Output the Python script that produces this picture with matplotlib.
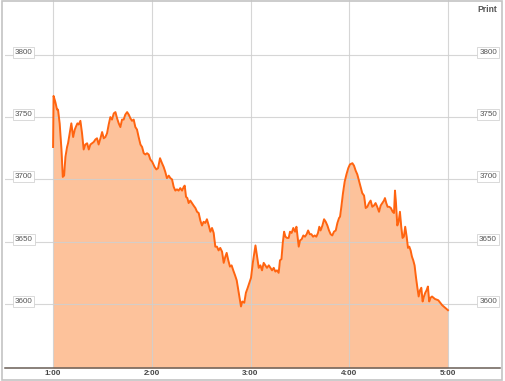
import matplotlib
matplotlib.use("Agg")
from matplotlib import pyplot as plt
from matplotlib.patches import Rectangle

# minutes after 1:00 and index level
minutos = [0, 0.3, 1.4, 2.4, 3.0, 4.0, 5.1, 5.9, 6.7, 7.5, 8.5, 9.1, 10.1, 11.1, 12.2,
           13.2, 13.8, 14.8, 15.6, 16.6, 17.6, 18.6, 19.6, 20.7, 21.7, 22.7, 23.7,
           24.7, 25.7, 26.7, 27.7, 28.8, 29.8, 30.8, 31.8, 32.8, 33.8, 34.8, 35.8,
           36.9, 37.9, 38.9, 39.9, 40.9, 41.9, 42.9, 43.9, 45.0, 46.0, 47.0, 48.0,
           49.0, 50.0, 51.0, 52.0, 53.1, 54.1, 55.1, 56.1, 57.1, 58.1, 59.1, 60.3,
           61.7, 62.8, 63.8, 65.0, 66.2, 67.2, 68.2, 69.2, 70.3, 71.3, 72.3, 73.3,
           74.3, 75.3, 76.3, 77.3, 78.4, 79.4, 80.0, 80.8, 81.6, 82.4, 83.4, 84.4,
           85.4, 86.5, 87.5, 88.5, 89.5, 90.5, 91.5, 92.5, 93.5, 94.6, 95.6, 96.6,
           97.6, 98.6, 99.6, 100.6, 101.6, 102.7, 103.7, 104.7, 105.5, 106.5, 107.5,
           108.5, 109.5, 110.6, 111.6, 112.6, 113.6, 114.2, 115.0, 116.2, 117.2,
           118.3, 119.3, 120.3, 121.5, 123.0, 124.0, 125.0, 126.0, 127.0, 128.0,
           129.0, 130.0, 131.1, 132.1, 133.1, 134.1, 135.1, 136.1, 137.1, 137.9,
           138.8, 139.6, 140.4, 141.2, 142.2, 143.2, 144.0, 145.0, 146.0, 147.1,
           147.9, 148.7, 149.3, 150.1, 151.1, 152.1, 153.1, 154.1, 155.0, 156.0,
           157.0, 158.0, 159.0, 160.0, 161.0, 161.8, 162.6, 163.7, 164.7, 165.7,
           166.7, 167.7, 168.7, 169.7, 170.7, 171.8, 172.8, 173.8, 174.4, 175.2,
           176.2, 177.2, 178.3, 179.4, 180.4, 181.9, 182.9, 183.9, 184.9, 185.9,
           186.9, 187.9, 189.0, 190.0, 191.0, 192.0, 193.0, 194.0, 195.0, 196.0,
           197.0, 198.1, 199.1, 200.1, 201.1, 201.7, 202.5, 203.3, 204.3, 205.3,
           206.4, 207.2, 207.8, 208.4, 209.2, 210.0, 210.8, 211.6, 212.4, 213.2,
           214.0, 214.9, 215.7, 216.5, 217.3, 218.1, 218.9, 219.7, 220.5, 221.3,
           222.2, 223.0, 223.8, 224.6, 225.4, 226.2, 227.0, 227.8, 228.6, 229.4,
           230.3, 232.1, 234.1, 236.5, 240.0]
valores = [3726, 3767, 3762, 3756, 3756, 3745, 3724, 3702, 3703, 3718, 3726, 3729, 3737,
           3745, 3734, 3740, 3742, 3745, 3744, 3747, 3737, 3724, 3728, 3729, 3724,
           3728, 3729, 3730, 3732, 3733, 3728, 3733, 3738, 3733, 3734, 3737, 3744,
           3750, 3748, 3753, 3754, 3749, 3745, 3742, 3748, 3748, 3752, 3754, 3752,
           3749, 3747, 3748, 3742, 3740, 3734, 3728, 3726, 3721, 3720, 3721, 3720,
           3716, 3714,
           3710, 3708, 3709, 3717, 3713, 3710, 3706, 3701, 3703, 3701, 3700, 3694,
           3691, 3692, 3691, 3693, 3691, 3694, 3695, 3686, 3685, 3681, 3683, 3681,
           3679, 3677, 3674, 3673, 3667, 3663, 3666, 3665, 3668, 3663, 3658, 3661,
           3657, 3646, 3646, 3643, 3645, 3642, 3633, 3638, 3641, 3635, 3630, 3631,
           3627, 3623, 3619, 3611, 3603, 3598, 3602, 3601, 3609, 3613, 3617, 3621,
           3634, 3647, 3638, 3629, 3631, 3627, 3633, 3631, 3629, 3631, 3629, 3627,
           3629, 3626, 3627, 3625, 3635, 3636, 3649, 3658, 3654, 3653, 3653, 3658,
           3657, 3661, 3658, 3662, 3653, 3646, 3651, 3652, 3655, 3654, 3656, 3659,
           3656, 3656, 3654, 3655, 3654, 3657, 3662, 3659, 3663, 3668, 3666, 3663,
           3659, 3656, 3655, 3658, 3659, 3665, 3669, 3670, 3678, 3689, 3698, 3704,
           3709, 3712, 3713, 3711, 3707, 3704, 3699, 3694, 3689, 3687, 3677, 3678,
           3681, 3683, 3678, 3679, 3681, 3678, 3674, 3679, 3681, 3683, 3685, 3681,
           3678, 3678, 3677, 3674, 3673, 3691, 3681, 3663, 3666, 3674, 3662, 3653,
           3654, 3662, 3654, 3645, 3646, 3643, 3638, 3635, 3631, 3622, 3614, 3606,
           3611, 3613, 3602, 3606, 3609, 3611, 3614, 3602, 3605, 3606, 3604, 3603,
           3599, 3595]

horas = [1, 2, 3, 4, 5]
etiquetas_x = ["1:00", "2:00", "3:00", "4:00", "5:00"]
niveles = [3600, 3650, 3700, 3750, 3800]

fig = plt.figure(figsize=(5.05, 3.81), dpi=100)
ax = fig.add_axes([5 / 505, 13 / 381, 495 / 505, 368 / 381])

x = [1 + m / 60 for m in minutos]
fondo = 3548.6
ax.set_xlim(0.513, 5.527)
ax.set_ylim(fondo, 3844)

# Relleno, rejilla y linea
ax.fill_between(x, valores, fondo, color="#fdc29b", lw=0, zorder=1)
for h in horas:
    ax.axvline(h, color="#cfcfcf", lw=0.8, alpha=0.85, zorder=2)
for n in niveles:
    ax.axhline(n, color="#cfcfcf", lw=0.8, alpha=0.85, zorder=2)
ax.plot(x, valores, color="#ff6410", lw=1.4, zorder=3, solid_joinstyle="round")

# Ejes
for lado in ["top", "left", "right"]:
    ax.spines[lado].set_visible(False)
ax.spines["bottom"].set_color("#6a5e56")
ax.spines["bottom"].set_linewidth(1.1)
ax.set_xticks([])
ax.set_yticks([])

caja = dict(boxstyle="square,pad=0.25", fc="white", ec="#d3d3d3", lw=0.6)
for n in niveles:
    ax.annotate(str(n), xy=(0, n), xycoords=("axes fraction", "data"),
                xytext=(7, 1.8), textcoords="offset points", ha="left", va="center",
                fontsize=5.8, color="#555555", family="Liberation Sans", bbox=caja, zorder=5)
    ax.annotate(str(n), xy=(1, n), xycoords=("axes fraction", "data"),
                xytext=(-2.2, 1.8), textcoords="offset points", ha="right", va="center",
                fontsize=5.8, color="#555555", family="Liberation Sans", bbox=caja, zorder=5)

for h, lbl in zip(horas, etiquetas_x):
    ax.annotate(lbl, xy=(h, 0), xycoords=("data", "axes fraction"),
                xytext=(0, -4.3), textcoords="offset points", ha="center", va="center",
                fontsize=5.8, fontweight="bold", color="#444444", family="Liberation Sans",
                annotation_clip=False)

fig.text(497 / 505, 1 - 9 / 381, "Print", ha="right", va="center", fontsize=6.2,
         fontweight="bold", color="#555555", family="Liberation Sans")

# Marco exterior
fig.patches.append(Rectangle((1.5 / 505, 1.5 / 381), 500 / 505, 379 / 381,
                             transform=fig.transFigure, fill=False, ec="#c4c4c4", lw=1.2))

plt.savefig("out.png", dpi=100)
